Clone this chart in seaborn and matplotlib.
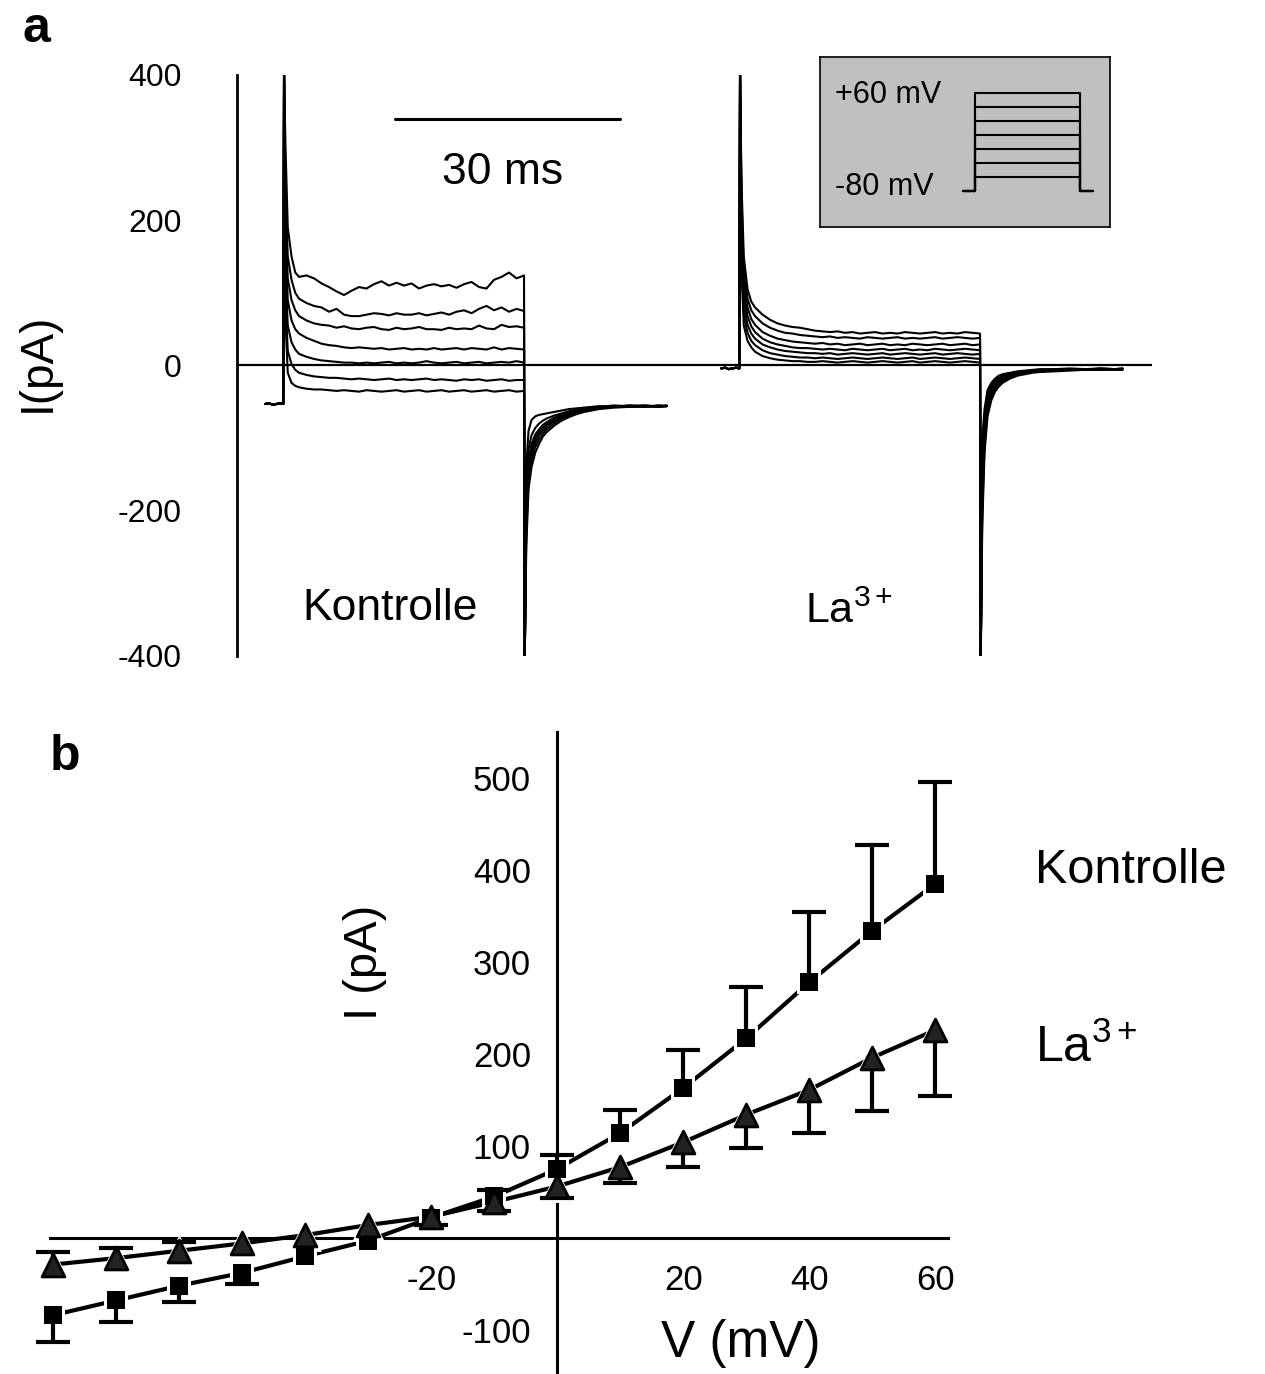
import numpy as np
import pandas as pd
import seaborn as sns
import matplotlib.pyplot as plt

# ---------- panel a: current traces (pA), time in ms ----------
pulse_len = 32
t_pre = [-2.5, -2.0, -1.5, -1.0, -0.5, -0.1]
t_pulse = [0.0, 0.2, 0.5, 1.0, 1.5, 2.0] + list(range(3, 33))
t_tail = [0.1, 0.3, 0.6, 1, 1.5, 2, 2.5, 3, 4, 5, 6, 7, 8, 10, 12, 14, 16, 18, 19]

ctrl_base = [-53, -52, -54, -53, -52, -53]
ctrl_pulse = [
    [400, 300, 190, 150, 128, 122, 124, 120, 113, 108, 102, 97, 103, 108, 106, 112, 116, 110,
     114, 110, 113, 106, 110, 112, 109, 111, 107, 112, 115, 108, 106, 118, 122, 128, 120, 124],
    [400, 240, 150, 118, 100, 92, 86, 82, 80, 74, 78, 70, 68, 68, 70, 72, 71, 69,
     72, 70, 70, 72, 69, 71, 73, 70, 74, 76, 72, 78, 82, 76, 80, 74, 78, 75],
    [400, 200, 120, 90, 76, 68, 62, 58, 56, 55, 52, 54, 51, 50, 52, 53, 50, 49,
     52, 50, 51, 53, 50, 50, 49, 52, 50, 51, 50, 55, 51, 50, 56, 53, 54, 52],
    [400, 170, 90, 62, 50, 44, 38, 34, 30, 28, 27, 25, 24, 25, 24, 23, 24, 22,
     23, 24, 22, 23, 22, 24, 22, 23, 24, 22, 24, 23, 22, 25, 22, 24, 23, 22],
    [400, 130, 55, 32, 22, 16, 12, 9, 7, 6, 5, 4, 4, 3, 4, 3, 4, 5,
     3, 4, 3, 4, 6, 4, 3, 4, 5, 3, 4, 5, 3, 4, 5, 4, 6, 4],
    [400, 90, 20, 2, -6, -10, -13, -15, -16, -17, -17, -18, -19, -18, -19, -20, -19, -18,
     -20, -19, -20, -19, -18, -20, -19, -20, -21, -19, -20, -19, -21, -20, -19, -21, -20, -20],
    [400, 60, -10, -24, -28, -30, -32, -33, -33, -34, -35, -34, -35, -36, -34, -35, -36, -35,
     -34, -36, -35, -34, -36, -35, -34, -36, -35, -34, -36, -35, -34, -36, -35, -34, -36, -35],
]
ctrl_tail = [
    [-400, -250, -170, -140, -120, -108, -98, -92, -83, -76, -71, -67, -64, -60, -58, -57, -56, -57, -56],
    [-400, -230, -160, -130, -112, -102, -94, -88, -80, -74, -69, -66, -62, -59, -57, -56, -57, -55, -56],
    [-400, -220, -150, -122, -106, -96, -90, -84, -77, -72, -68, -64, -61, -58, -57, -55, -56, -57, -55],
    [-400, -200, -140, -115, -100, -92, -86, -81, -75, -70, -66, -63, -60, -58, -56, -57, -55, -56, -56],
    [-400, -190, -130, -108, -95, -88, -82, -78, -72, -68, -64, -62, -60, -57, -56, -56, -55, -57, -56],
    [-400, -170, -115, -96, -86, -80, -76, -73, -69, -66, -63, -61, -59, -57, -55, -56, -57, -55, -56],
    [-400, -140, -90, -75, -70, -68, -67, -66, -64, -62, -60, -59, -58, -56, -57, -55, -56, -56, -55],
]

la_base = [-4, -3, -5, -4, -3, -4]
la_pulse = [
    [400, 250, 150, 105, 88, 80, 70, 63, 58, 55, 53, 52, 50, 48, 47, 46, 47, 45,
     46, 44, 45, 46, 44, 45, 44, 46, 45, 44, 45, 46, 44, 45, 44, 46, 45, 44],
    [400, 230, 130, 92, 76, 68, 58, 52, 48, 45, 44, 42, 41, 40, 39, 40, 38, 39,
     38, 37, 39, 38, 37, 38, 39, 37, 38, 37, 38, 39, 37, 38, 39, 38, 37, 38],
    [400, 210, 115, 80, 64, 56, 46, 41, 37, 35, 33, 32, 31, 30, 31, 29, 30, 28,
     29, 30, 28, 29, 30, 28, 29, 28, 30, 29, 28, 29, 30, 28, 29, 30, 28, 29],
    [400, 190, 100, 68, 54, 46, 37, 32, 29, 27, 25, 24, 24, 23, 22, 23, 22, 21,
     23, 22, 21, 22, 23, 21, 22, 23, 21, 22, 21, 23, 22, 21, 22, 23, 22, 21],
    [400, 170, 85, 56, 44, 37, 29, 25, 22, 20, 19, 18, 17, 17, 16, 17, 15, 16,
     17, 16, 15, 16, 17, 15, 16, 17, 16, 15, 16, 17, 15, 16, 17, 16, 15, 16],
    [400, 150, 70, 45, 34, 28, 21, 17, 15, 13, 12, 11, 11, 10, 11, 10, 9, 10,
     11, 10, 9, 10, 11, 10, 9, 10, 11, 9, 10, 11, 10, 9, 10, 11, 10, 9],
    [400, 130, 55, 34, 25, 19, 13, 10, 8, 7, 6, 6, 5, 5, 6, 5, 4, 5,
     6, 5, 4, 5, 6, 5, 4, 5, 6, 4, 5, 6, 5, 4, 5, 6, 5, 4],
]
la_tail = [
    [-400, -220, -120, -70, -48, -36, -29, -24, -18, -14, -12, -10, -9, -8, -7, -6, -6, -5, -6],
    [-400, -200, -110, -64, -44, -33, -27, -22, -17, -13, -11, -9, -8, -7, -6, -6, -5, -6, -5],
    [-400, -180, -100, -58, -40, -30, -24, -20, -15, -12, -10, -9, -8, -7, -6, -5, -6, -5, -5],
    [-400, -160, -90, -52, -36, -27, -22, -18, -14, -11, -9, -8, -7, -6, -6, -5, -5, -6, -5],
    [-400, -140, -80, -46, -32, -24, -19, -16, -12, -10, -8, -7, -7, -6, -5, -6, -5, -5, -4],
    [-400, -120, -70, -40, -28, -21, -17, -14, -11, -9, -8, -7, -6, -5, -5, -6, -4, -5, -5],
    [-400, -100, -60, -34, -24, -18, -14, -12, -10, -8, -7, -6, -5, -5, -4, -5, -4, -5, -4],
]

# pulse protocol (inset)
hold_mv = -80
step_mv = [-60, -40, -20, 0, 20, 40, 60]

# ---------- panel b: I-V relation ----------
volts = [-80, -70, -60, -50, -40, -30, -20, -10, 0, 10, 20, 30, 40, 50, 60]
kontrolle = [-84, -68, -52, -38, -20, -3, 22, 45, 75, 114, 163, 217, 278, 334, 385]
kontrolle_err = [29, 24, 18, 12, 0, 0, 0, 7, 15, 25, 41, 56, 76, 93, 111]
la = [-29, -22, -14, -6, 3, 14, 23, 39, 56, 77, 104, 134, 161, 196, 226]
la_err = [14, 11, 10, 0, 0, 0, 9, 10, 13, 17, 27, 36, 47, 58, 72]

sns.set_style("white", {"axes.edgecolor": "black", "text.color": "black",
                        "xtick.color": "black", "ytick.color": "black"})
plt.rcParams["font.family"] = ["Liberation Sans", "DejaVu Sans"]
plt.rcParams["mathtext.fontset"] = "custom"
plt.rcParams["mathtext.rm"] = "Liberation Sans"
plt.rcParams["mathtext.it"] = "Liberation Sans:italic"
plt.rcParams["mathtext.bf"] = "Liberation Sans:bold"
plt.rcParams["axes.unicode_minus"] = False

W, H = 1265, 1374
fig = plt.figure(figsize=(W / 100, H / 100), dpi=100)


def box(x0, y0, x1, y1):
    return [x0 / W, 1 - y1 / H, (x1 - x0) / W, (y1 - y0) / H]


# ---- panel a ----
axA = fig.add_axes(box(237, 75, 1152, 656))
frames = []
for cond, base, pulses, tails, t0 in [("ctrl", ctrl_base, ctrl_pulse, ctrl_tail, 0.0),
                                      ("la", la_base, la_pulse, la_tail, 60.8)]:
    for k, (p, q) in enumerate(zip(pulses, tails)):
        t = [t0 + x for x in t_pre + t_pulse + [pulse_len + x for x in t_tail]]
        frames.append(pd.DataFrame({"t": t, "I": base + p + q, "trace": f"{cond}{k}"}))
traces = pd.concat(frames, ignore_index=True)

axA.axhline(0, color="black", lw=1.6, zorder=1)
sns.lineplot(data=traces, x="t", y="I", units="trace", estimator=None, sort=False,
             color="black", lw=1.5, ax=axA, legend=False, zorder=2)
axA.set_xlim(-6.27, 115.73)
axA.set_ylim(-400, 400)
axA.set_xlabel("")
axA.set_ylabel("")
for s in ["top", "right", "bottom"]:
    axA.spines[s].set_visible(False)
axA.spines["left"].set_linewidth(2)
axA.set_xticks([])
axA.set_yticks([-400, -200, 0, 200, 400])
axA.tick_params(axis="y", direction="out", length=11, width=2, labelsize=23, pad=29)

# scale bar
axA.plot([14.8, 44.8], [340, 340], color="black", lw=2.2)
axA.text(29.2, 266, "30 ms", ha="center", va="center", fontsize=32)
axA.text(14.1, -351, "Kontrolle", ha="center", va="baseline", fontsize=32)
axA.text(69.5, -355, r"La$^{\mathregular{3+}}$", ha="left", va="baseline", fontsize=31)
fig.text(38 / W, 1 - 362 / H, "I(pA)", rotation=90, ha="center", va="center", fontsize=33)

# inset with pulse protocol
axI = fig.add_axes(box(820, 57, 1110, 227))
axI.set_facecolor("#c0c0c0")
for v in step_mv:
    axI.plot([-3.7, 0, 0, pulse_len, pulse_len, pulse_len + 4],
             [hold_mv, hold_mv, v, v, hold_mv, hold_mv], color="black", lw=1.5)
axI.set_xlim(-47.2, 41.2)
axI.set_ylim(-131.4, 111.4)
axI.set_xticks([])
axI.set_yticks([])
for sp in axI.spines.values():
    sp.set_linestyle((0, (1, 1)))
    sp.set_linewidth(1.2)
axI.text(0.052, 0.776, "+60 mV", transform=axI.transAxes, fontsize=22, va="center")
axI.text(0.052, 0.235, "-80 mV", transform=axI.transAxes, fontsize=22, va="center")

# ---- panel b ----
axB = fig.add_axes(box(50, 732, 948, 1374))
sns.lineplot(x=volts, y=kontrolle, color="black", lw=3, ax=axB, zorder=2)
sns.lineplot(x=volts, y=la, color="black", lw=3, ax=axB, zorder=2)

# white halos so lines stop short of the symbols
sns.scatterplot(x=volts, y=kontrolle, marker="s", s=290, color="white", linewidth=0,
                ax=axB, zorder=3, clip_on=False)
sns.scatterplot(x=volts, y=la, marker="^", s=560, color="white", linewidth=0,
                ax=axB, zorder=3, clip_on=False)

# one-sided error bars
k_arr, ke = np.array(kontrolle), np.array(kontrolle_err)
l_arr, le = np.array(la), np.array(la_err)
v_arr = np.array(volts)
k_end = k_arr + np.where(k_arr >= 0, ke, -ke)
l_end = l_arr + np.where(l_arr >= 0, -le, le)
for y0, y1, e in [(k_arr, k_end, ke), (l_arr, l_end, le)]:
    m = e > 0
    axB.vlines(v_arr[m], y0[m], y1[m], colors="black", lw=3, zorder=4, clip_on=False)
    axB.plot(v_arr[m], y1[m], ls="none", marker="_", ms=24, mew=3, color="black",
             zorder=4, clip_on=False)

sns.scatterplot(x=volts, y=kontrolle, marker="s", s=150, color="black", linewidth=0,
                ax=axB, zorder=5, clip_on=False)
sns.scatterplot(x=volts, y=la, marker="^", s=270, color="#222222", edgecolor="black",
                linewidth=2, ax=axB, zorder=5, clip_on=False)

axB.set_xlim(-80.5, 62)
axB.set_ylim(-148, 550)
axB.spines["left"].set_position(("data", 0))
axB.spines["bottom"].set_position(("data", 0))
axB.spines["top"].set_visible(False)
axB.spines["right"].set_visible(False)
axB.spines["left"].set_linewidth(2.2)
axB.spines["bottom"].set_linewidth(2.2)
axB.set_xticks([-20, 20, 40, 60])
axB.set_xticks([-10, 10, 30, 50], minor=True)
axB.set_yticks([-100, 100, 200, 300, 400, 500])
axB.set_yticks([-50, 50, 150, 250, 350, 450], minor=True)
axB.tick_params(which="major", direction="out", length=12, width=2.2, labelsize=25, pad=7)
axB.tick_params(which="minor", direction="out", length=7, width=2.2)
axB.set_xlabel("")
axB.set_ylabel("")

fig.text(365 / W, 1 - 962 / H, "I (pA)", rotation=90, ha="center", va="center", fontsize=34)
fig.text(741 / W, 1 - 1357 / H, "V (mV)", ha="center", va="baseline", fontsize=37)
fig.text(1035 / W, 1 - 883 / H, "Kontrolle", va="baseline", fontsize=35)
fig.text(1035 / W, 1 - 1062 / H, r"La$^{\mathregular{3+}}$", va="baseline", fontsize=36)

fig.text(22 / W, 1 - 42 / H, "a", fontsize=36, fontweight="bold", va="baseline")
fig.text(50 / W, 1 - 770 / H, "b", fontsize=36, fontweight="bold", va="baseline")

fig.savefig("out.png", dpi=100)
